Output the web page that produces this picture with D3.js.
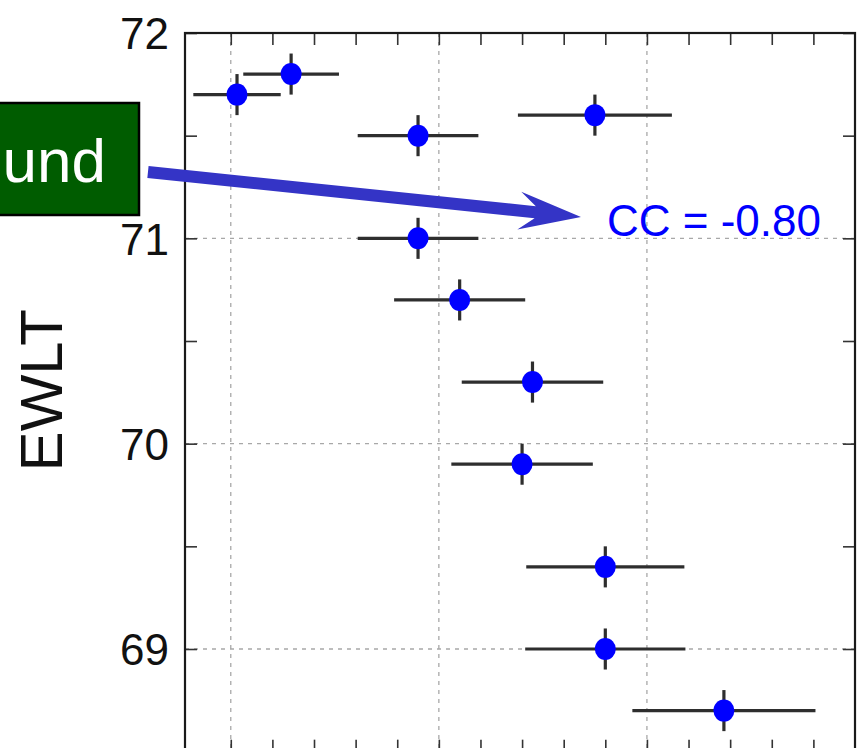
<!DOCTYPE html>
<html>
<head>
<meta charset="utf-8">
<script src="https://cdn.jsdelivr.net/npm/d3@7"></script>
<style>
  html, body { margin: 0; padding: 0; background: #fff; }
  svg { display: block; font-family: "Liberation Sans", Arial, Helvetica, sans-serif; }
</style>
</head>
<body>
<svg id="chart" width="861" height="748"></svg>
<script>
// ---- data ----
const xValues = [0.03, 0.29, 0.90, 1.75, 0.90, 1.10, 1.45, 1.40, 1.80, 1.80, 2.37];
const yValues = [71.7, 71.8, 71.5, 71.6, 71.0, 70.7, 70.3, 69.9, 69.4, 69.0, 68.7];
const xErrors = [0.21, 0.23, 0.29, 0.37, 0.29, 0.315, 0.34, 0.34, 0.38, 0.385, 0.44];
const yErrors = [0.10, 0.10, 0.10, 0.10, 0.10, 0.10, 0.10, 0.10, 0.10, 0.10, 0.10];
const yTickValues = [69, 70, 71, 72];
const yTickLabels = ["69", "70", "71", "72"];
const yMinorTicks = [68.5, 69, 69.5, 70, 70.5, 71, 71.5, 72];
const xGridValues = [0, 1, 2];
const xMinorTicks = [0, 0.2, 0.4, 0.6, 0.8, 1.0, 1.2, 1.4, 1.6, 1.8, 2.0, 2.2, 2.4, 2.6, 2.8];
const yAxisTitle = "EWLT";
const ccLabel = "CC = -0.80";
const boxLabel = "und";

// ---- layout ----
const svg = d3.select("#chart");
const x = d3.scaleLinear().domain([-0.22, 3.0]).range([185, 855]);
const y = d3.scaleLinear().domain([69, 72]).range([649, 33]);
const yBottom = 68.5;
const pLeft = x(-0.22), pRight = x(3.0), pTop = y(72), pBottom = y(yBottom);

// gridlines
const grid = svg.append("g").attr("stroke", "#a8a8a8").attr("stroke-width", 1.3)
  .attr("stroke-dasharray", "4,5");
grid.selectAll("line.gx").data(xGridValues).join("line").attr("class", "gx")
  .attr("x1", d => x(d)).attr("x2", d => x(d)).attr("y1", pTop).attr("y2", pBottom);
grid.selectAll("line.gy").data(yTickValues).join("line").attr("class", "gy")
  .attr("y1", d => y(d)).attr("y2", d => y(d)).attr("x1", pLeft).attr("x2", pRight);

// axes (inward ticks)
const tick = 12;
const yAxisL = d3.axisLeft(y).tickValues(yMinorTicks).tickSize(-tick).tickFormat("");
const gL = svg.append("g").attr("transform", `translate(${pLeft},0)`).call(yAxisL);
const yAxisR = d3.axisRight(y).tickValues(yMinorTicks).tickSize(-tick).tickFormat("");
const gR = svg.append("g").attr("transform", `translate(${pRight},0)`).call(yAxisR);
const xAxisT = d3.axisTop(x).tickValues(xMinorTicks).tickSize(-tick).tickFormat("");
const gT = svg.append("g").attr("transform", `translate(0,${pTop})`).call(xAxisT);
const xAxisB = d3.axisBottom(x).tickValues(xMinorTicks).tickSize(-tick).tickFormat("");
const gB = svg.append("g").attr("transform", `translate(0,${pBottom})`).call(xAxisB);
[gL, gR, gT, gB].forEach(g => {
  g.select(".domain").remove();
  g.selectAll(".tick line").attr("stroke", "#333").attr("stroke-width", 1.6);
});

// y tick labels
const yLab = d3.axisLeft(y).tickValues(yTickValues).tickSize(0).tickPadding(16)
  .tickFormat((d, i) => yTickLabels[i]);
const gLab = svg.append("g").attr("transform", `translate(${pLeft},0)`).call(yLab);
gLab.select(".domain").remove();
gLab.selectAll("text").attr("font-size", 44).attr("fill", "#111")
  .attr("font-family", "'Liberation Sans', Arial, sans-serif").attr("dy", "0.36em");

// frame
svg.append("rect").attr("x", pLeft).attr("y", pTop)
  .attr("width", pRight - pLeft).attr("height", pBottom - pTop)
  .attr("fill", "none").attr("stroke", "#1a1a1a").attr("stroke-width", 2.2);

// y title
svg.append("text")
  .attr("transform", `translate(62,${y(70.26)}) rotate(-90)`)
  .attr("text-anchor", "middle")
  .attr("font-size", 60).attr("fill", "#111")
  .text(yAxisTitle);

// error bars
const pts = xValues.map((v, i) => ({ x: v, y: yValues[i], ex: xErrors[i], ey: yErrors[i] }));
const eb = svg.append("g").attr("stroke", "#2e2e2e").attr("stroke-width", 3.2);
eb.selectAll("line.h").data(pts).join("line").attr("class", "h")
  .attr("x1", d => x(d.x - d.ex)).attr("x2", d => x(d.x + d.ex))
  .attr("y1", d => y(d.y)).attr("y2", d => y(d.y));
eb.selectAll("line.v").data(pts).join("line").attr("class", "v")
  .attr("x1", d => x(d.x)).attr("x2", d => x(d.x))
  .attr("y1", d => y(d.y - d.ey)).attr("y2", d => y(d.y + d.ey));

// markers
svg.append("g").selectAll("ellipse").data(pts).join("ellipse")
  .attr("cx", d => x(d.x)).attr("cy", d => y(d.y))
  .attr("rx", 10.5).attr("ry", 11).attr("fill", "#0000ff");

// green annotation box
svg.append("rect").attr("x", -10).attr("y", 103).attr("width", 149).attr("height", 112)
  .attr("fill", "#005c00").attr("stroke", "#000").attr("stroke-width", 2.5);
svg.append("text").attr("x", 106).attr("y", 182).attr("text-anchor", "end")
  .attr("font-size", 62).attr("fill", "#fff").text(boxLabel);

// arrow
const sx = x(-0.398), sy = y(71.323), tx = x(1.683), ty = y(71.104);
const dx = tx - sx, dy = ty - sy, L = Math.hypot(dx, dy);
const ux = dx / L, uy = dy / L, nx = -uy, ny = ux;
const hw = 6, headLen = 62, headHalf = 19, notch = 46;
const P = (a, b) => [tx - ux * a + nx * b, ty - uy * a + ny * b];
const poly = [
  [sx + nx * hw, sy + ny * hw], P(notch, hw), P(headLen, headHalf), [tx, ty],
  P(headLen, -headHalf), P(notch, -hw), [sx - nx * hw, sy - ny * hw]
];
svg.append("path").attr("d", d3.line()(poly) + "Z").attr("fill", "#3434c6");

// CC label
svg.append("text").attr("x", 607).attr("y", 236).attr("font-size", 44)
  .attr("fill", "#0000ff").text(ccLabel);
</script>
</body>
</html>
